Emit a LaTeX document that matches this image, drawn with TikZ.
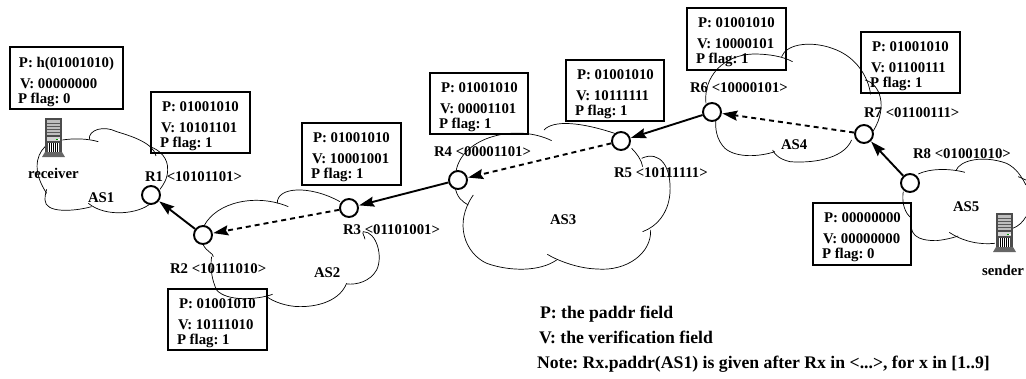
\documentclass[tikz,border=0pt]{standalone}
\usepackage{fontspec}
\setmainfont{Liberation Serif}
\usetikzlibrary{arrows.meta}
\tikzset{
  x=1pt,y=-1pt,
  infobox/.style={draw=black,line width=1.8pt,fill=none},
  lbl/.style={anchor=base west,inner sep=0pt,outer sep=0pt,font=\fontsize{14.8}{16}\selectfont\bfseries\frenchspacing},
  legend/.style={anchor=base west,inner sep=0pt,outer sep=0pt,font=\fontsize{17.7}{19}\selectfont\bfseries\frenchspacing},
  router/.style={circle,draw=black,line width=1.9pt,fill=white,minimum size=18pt,inner sep=0pt},
  link/.style={line width=1.9pt,-{Stealth[length=15pt,width=10pt,inset=2pt]},shorten >=0.5pt},
  dlink/.style={link,dash pattern=on 5pt off 4pt},
  cloudline/.style={line width=0.7pt,draw=black},
}
\newcommand{\infopanel}[6]{%
  \node[lbl] (#1p) at (#2+12,#3+20) {P: #4};
  \node[lbl] (#1v) at (#2+11,#3+41) {V: #5};
  \node[lbl] (#1f) at (#2+10,#3+56) {P flag: #6};
}
\newcommand{\serverpic}[2]{%
  \begin{scope}[shift={(#1,#2)}]
    \fill[black!70] (2,0) rectangle (19,36);
    \fill[gray!50] (4,2) rectangle (17,17);
    \foreach \yy in {5,8,11,14} \draw[black!65,line width=0.6pt] (4,\yy) -- (17,\yy);
    \fill[gray!35] (4,19) rectangle (17,23);
    \fill[white] (5,25) rectangle (16,34);
    \foreach \xx in {6,8,10,12,14} \draw[black,line width=0.8pt] (\xx,25) -- (\xx,34);
    \fill[green!60!black] (13,20.5) rectangle (14.5,22);
    \fill[white] (15,20.5) rectangle (16.5,22);
    \fill[black!60] (2,34) -- (19,34) -- (22,39) -- (-1,39) -- cycle;
  \end{scope}}
\begin{document}
\begin{tikzpicture}[x=1pt,y=-1pt]
\useasboundingbox (0,0) rectangle (1026,378);
% AS1 (traced at a third of a pixel)
\begin{scope}[shift={(0,30)},x=0.3333pt,y=-0.3333pt,cloudline]
\draw (187,330) .. controls (220,325) and (260,325) .. (295,335);
\draw (268,328) .. controls (265,300) and (310,285) .. (350,305) .. controls (400,320) and (460,340) .. (468,378);
\draw (450,350) .. controls (480,360) and (505,385) .. (503,420) .. controls (503,445) and (490,465) .. (480,478);
\draw (452,520) .. controls (420,550) and (320,565) .. (265,520);
\draw (275,530) .. controls (220,545) and (135,550) .. (135,510) .. controls (135,495) and (138,485) .. (140,478);
\draw (135,350) .. controls (105,380) and (100,430) .. (140,490);
\end{scope}
% AS2
\begin{scope}[shift={(0,30)},x=0.3333pt,y=-0.3333pt,cloudline]
\draw (612,588) .. controls (650,515) and (770,490) .. (865,530);
\draw (832,520) .. controls (830,470) and (930,465) .. (1020,515);
\draw (1095,628) .. controls (1095,620) and (1085,610) .. (1090,605) .. controls (1130,605) and (1150,680) .. (1130,720) .. controls (1110,755) and (1070,765) .. (1040,762);
\draw (1040,760) .. controls (1020,810) and (960,830) .. (900,830) .. controls (860,830) and (820,815) .. (800,800);
\draw (818,793) .. controls (770,810) and (680,815) .. (650,780) .. controls (635,750) and (630,710) .. (635,680);
\draw (610,645) .. controls (620,665) and (640,670) .. (640,680);
\end{scope}
% AS3
\begin{scope}[shift={(340,50)},x=0.3333pt,y=-0.3333pt,cloudline]
\draw (348,365) .. controls (365,260) and (530,220) .. (635,272);
\draw (612,240) .. controls (640,210) and (720,215) .. (830,252);
\draw (875,295) .. controls (890,310) and (905,330) .. (908,350);
\draw (905,325) .. controls (960,300) and (995,350) .. (990,430) .. controls (985,490) and (950,530) .. (908,545);
\draw (932,540) .. controls (935,610) and (860,665) .. (770,657) .. controls (710,655) and (650,630) .. (622,613);
\draw (650,630) .. controls (600,665) and (510,665) .. (440,640) .. controls (375,610) and (340,520) .. (400,435);
\draw (345,410) .. controls (350,440) and (365,455) .. (385,465);
\end{scope}
% AS4
\begin{scope}[x=0.3333pt,y=-0.3333pt,shift={(2040,0)},cloudline]
\draw (78,310) .. controls (70,230) and (130,165) .. (220,162) .. controls (270,162) and (310,170) .. (338,185);
\draw (305,170) .. controls (320,130) and (400,120) .. (470,150) .. controls (530,175) and (565,230) .. (572,283);
\draw (555,240) .. controls (600,250) and (625,320) .. (580,393);
\draw (515,420) .. controls (490,480) and (390,490) .. (330,485) .. controls (300,478) and (285,465) .. (278,450);
\draw (285,455) .. controls (240,470) and (170,475) .. (135,445) .. controls (110,420) and (105,385) .. (108,360);
\end{scope}
% AS5
\begin{scope}[x=0.3333pt,y=-0.3333pt,shift={(2040,0)},cloudline]
\draw (715,522) .. controls (750,505) and (810,505) .. (855,517);
\draw (828,512) .. controls (840,480) and (910,465) .. (980,490) .. controls (1010,505) and (1025,530) .. (1038,555);
\draw (1015,530) -- (1038,540);
\draw (670,575) .. controls (665,610) and (675,640) .. (695,655);
\draw (695,650) .. controls (685,705) and (710,722) .. (770,722) .. controls (790,720) and (815,715) .. (835,708);
\draw (808,697) .. controls (850,725) and (900,735) .. (945,730);
\draw (998,685) .. controls (1015,680) and (1030,665) .. (1038,650);
\end{scope}
% servers
\serverpic{43}{118}
\serverpic{994}{213}
% boxes
\node[infobox,anchor=north west,minimum width=113pt,minimum height=62pt] (boxa) at (9,46) {};
\node[infobox,anchor=north west,minimum width=99pt,minimum height=61pt] (boxb) at (150,91) {};
\node[infobox,anchor=north west,minimum width=99pt,minimum height=62pt] (boxc) at (301,122) {};
\node[infobox,anchor=north west,minimum width=99pt,minimum height=61pt] (boxd) at (167,288) {};
\node[infobox,anchor=north west,minimum width=98pt,minimum height=61pt] (boxe) at (429,72) {};
\node[infobox,anchor=north west,minimum width=98pt,minimum height=61pt] (boxf) at (565,59) {};
\node[infobox,anchor=north west,minimum width=99pt,minimum height=62pt] (boxg) at (686,7) {};
\node[infobox,anchor=north west,minimum width=99pt,minimum height=61pt] (boxh) at (860,31) {};
\node[infobox,anchor=north west,minimum width=98pt,minimum height=62pt] (boxi) at (812,202) {};
% box texts
\node[lbl] (ap) at (19,67) {P: h(01001010)};
\node[lbl] (av) at (20,88) {V: 00000000};
\node[lbl] (af) at (18,103) {P flag: 0};
\infopanel{b}{150}{91}{01001010}{10101101}{1}
\infopanel{c}{301}{122}{01001010}{10001001}{1}
\infopanel{d}{167}{288}{01001010}{10111010}{1}
\infopanel{e}{429}{72}{01001010}{00001101}{1}
\infopanel{f}{565}{59}{01001010}{10111111}{1}
\infopanel{g}{686}{7}{01001010}{10000101}{1}
\infopanel{h}{860}{31}{01001010}{01100111}{1}
\infopanel{i}{812}{202}{00000000}{00000000}{0}
% routers
\node[router] (r1) at (151,195) {};
\node[router] (r2) at (203,235) {};
\node[router] (r3) at (349,208) {};
\node[router] (r4) at (458,180) {};
\node[router] (r5) at (621,141) {};
\node[router] (r6) at (712,112) {};
\node[router] (r7) at (864,134) {};
\node[router] (r8) at (910,183) {};
% links
\draw[link] (r2) -- (r1);
\draw[dlink] (r3) -- (r2);
\draw[link] (r4) -- (r3);
\draw[dlink] (r5) -- (r4);
\draw[link] (r6) -- (r5);
\draw[dlink] (r7) -- (r6);
\draw[link] (r8) -- (r7);
% labels
\node[lbl] (l1) at (145,181) {R1 <10101101>};
\node[lbl] (l2) at (170,273) {R2 <10111010>};
\node[lbl] (l3) at (343,234) {R3 <01101001>};
\node[lbl] (l4) at (434,156) {R4 <00001101>};
\node[lbl] (l5) at (614,177) {R5 <10111111>};
\node[lbl] (l6) at (690,92) {R6 <10000101>};
\node[lbl] (l7) at (864,117) {R7 <01100111>};
\node[lbl] (l8) at (913,158) {R8 <01001010>};
\node[lbl] (as1) at (88,202) {AS1};
\node[lbl] (as2) at (314,277) {AS2};
\node[lbl] (as3) at (550,224) {AS3};
\node[lbl] (as4) at (781,149) {AS4};
\node[lbl] (as5) at (953,211) {AS5};
\node[lbl] (recv) at (28,178) {receiver};
\node[lbl] (send) at (982,275) {sender};
\node[legend] (lg1) at (540,318) {P: the paddr field};
\node[legend] (lg2) at (539,343) {V: the verification field};
\node[legend] (lg3) at (537,368) {Note: Rx.paddr(AS1) is given after Rx in <...>, for x in [1..9]};
\end{tikzpicture}
\end{document}
